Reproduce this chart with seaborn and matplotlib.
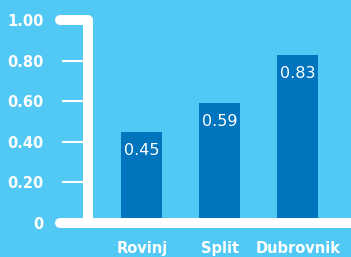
import matplotlib
matplotlib.use("Agg")
import matplotlib.pyplot as plt
import seaborn as sns
import pandas as pd
from matplotlib.lines import Line2D

cities = ["Rovinj", "Split", "Dubrovnik"]
values = [0.45, 0.59, 0.83]
yticks = [0, 0.2, 0.4, 0.6, 0.8, 1.0]
ytick_labels = ["0", "0.20", "0.40", "0.60", "0.80", "1.00"]

BG = "#52C9F5"
BAR = "#0074BD"
W = 351
H = 257

sns.set_theme(style="white")
plt.rcParams["font.family"] = ["DejaVu Sans"]

df = pd.DataFrame({"city": cities, "value": values})

fig = plt.figure(figsize=(W / 100, H / 100), dpi=100, facecolor=BG)
ax = fig.add_axes([88 / W, (H - 223) / H, (W - 88) / W, 203 / H])
ax.set_facecolor("none")

sns.barplot(data=df, x="city", y="value", color=BAR, saturation=1,
            width=0.525, ax=ax, zorder=2, linewidth=0, edgecolor="none")
ax.set_xlim(-0.692, 2.68)
ax.set_ylim(0, 1)

for s in ax.spines.values():
    s.set_visible(False)

ax.set_yticks(yticks)
ax.set_yticklabels(ytick_labels)
ax.tick_params(axis="y", length=18.7, width=1.5, color="white", direction="out",
               pad=13.5, labelsize=10.5, labelcolor="white", left=True)
for t in ax.get_yticklabels():
    t.set_fontweight("bold")
ax.tick_params(axis="x", length=0, pad=13, labelsize=10.5, labelcolor="white")
for t in ax.get_xticklabels():
    t.set_fontweight("bold")
ax.set_xlabel("")
ax.set_ylabel("")

lw = 7.2
frame = Line2D([-0.106, 0, 0], [1, 1, 0], transform=ax.transAxes, color="white",
               lw=lw, solid_capstyle="round", solid_joinstyle="round",
               clip_on=False, zorder=4)
base = Line2D([-0.106, 1.1], [0, 0], transform=ax.transAxes, color="white",
              lw=lw, solid_capstyle="round", clip_on=False, zorder=4)
ax.add_line(frame)
ax.add_line(base)

for i, v in enumerate(values):
    ax.annotate(f"{v:.2f}", (i, v), xytext=(0, -8), textcoords="offset points",
                ha="center", va="top", color="white", fontsize=11.5, zorder=5)

fig.savefig("out.png", dpi=100, facecolor=BG)
